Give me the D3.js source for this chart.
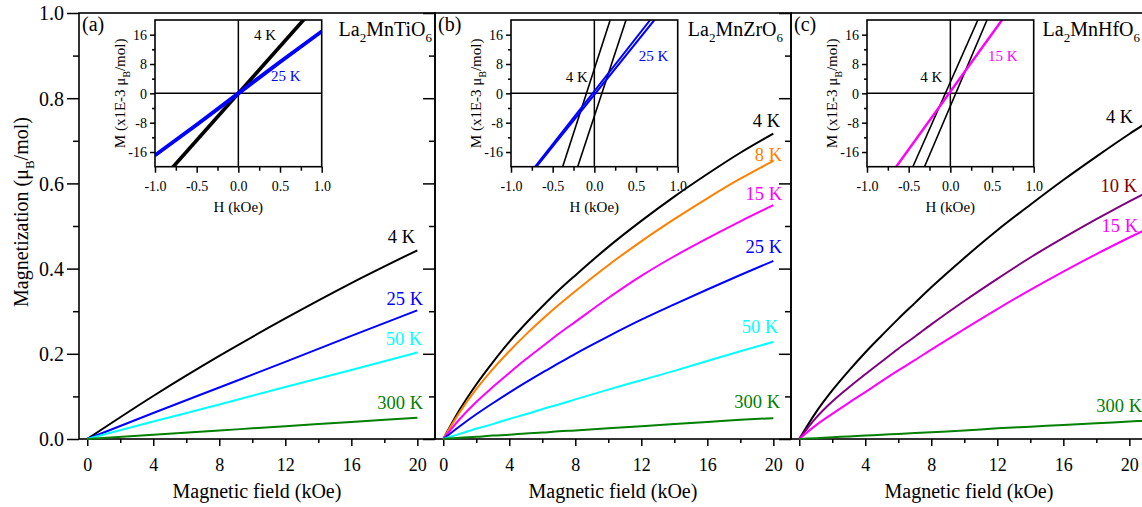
<!DOCTYPE html>
<html>
<head>
<meta charset="utf-8">
<script src="https://cdn.jsdelivr.net/npm/d3@7"></script>
<style>
body { margin: 0; background: #fff; }
svg { display: block; font-family: "Liberation Serif", "Times New Roman", serif; }
</style>
</head>
<body>
<div id="vis"></div>
<script>
var viewWidth = 1142;
var viewHeight = 507;

/* ---------- data (H in kOe, M in muB/mol) ---------- */

/* panel (a) La2MnTiO6 */
var fieldA = [0, 4, 8, 12, 16, 20];
var mA4 = [0, 0.101, 0.195, 0.283, 0.366, 0.443];
var mA25 = [0, 0.061, 0.121, 0.181, 0.242, 0.302];
var mA50 = [0, 0.041, 0.081, 0.122, 0.162, 0.203];
var mA300 = [0, 0.010, 0.020, 0.030, 0.040, 0.050];

/* panel (b) La2MnZrO6 */
var fieldB = [0, 1, 2, 3, 4, 5, 6, 7, 8, 10, 12, 14, 16, 18, 20];
var mB4 = [0, 0.069, 0.128, 0.180, 0.228, 0.271, 0.311, 0.349, 0.384, 0.451, 0.512, 0.569, 0.622, 0.672, 0.717];
var mB8 = [0, 0.063, 0.117, 0.164, 0.206, 0.245, 0.281, 0.315, 0.347, 0.408, 0.464, 0.516, 0.565, 0.611, 0.653];
var mB15 = [0, 0.047, 0.087, 0.122, 0.155, 0.187, 0.217, 0.247, 0.275, 0.331, 0.383, 0.429, 0.471, 0.511, 0.549];
var mB25 = [0, 0.030, 0.058, 0.084, 0.109, 0.133, 0.156, 0.178, 0.200, 0.241, 0.280, 0.316, 0.351, 0.385, 0.418];
var mB50 = [0, 0.012, 0.024, 0.035, 0.047, 0.058, 0.070, 0.081, 0.093, 0.116, 0.138, 0.160, 0.183, 0.206, 0.228];
var mB300 = [0, 0.003, 0.005, 0.008, 0.010, 0.013, 0.015, 0.018, 0.020, 0.025, 0.030, 0.035, 0.040, 0.045, 0.049];

/* panel (c) La2MnHfO6 */
var fieldC = [0, 1, 2, 3, 4, 5, 6, 7, 8, 10, 12, 14, 16, 18, 20, 21];
var mC4 = [0, 0.062, 0.114, 0.160, 0.203, 0.243, 0.282, 0.319, 0.356, 0.425, 0.490, 0.550, 0.608, 0.663, 0.716, 0.741];
var mC10 = [0, 0.049, 0.088, 0.121, 0.152, 0.182, 0.212, 0.240, 0.269, 0.324, 0.376, 0.426, 0.472, 0.516, 0.558, 0.578];
var mC15 = [0, 0.032, 0.059, 0.085, 0.110, 0.136, 0.161, 0.185, 0.210, 0.258, 0.305, 0.350, 0.393, 0.434, 0.473, 0.492];
var mC300 = [0, 0.002, 0.004, 0.006, 0.008, 0.010, 0.012, 0.014, 0.016, 0.020, 0.025, 0.029, 0.033, 0.037, 0.041, 0.043];

/* inset loops: each branch is a list of [H (kOe), M (1E-3 muB/mol)] */
var loopA4 = [[[-1, -25.9], [1, 25.3]], [[-1, -25.3], [1, 25.9]]];
var loopA25 = [[[-1, -17.0], [-0.5, -8.7], [0, -0.2], [0.5, 8.4], [1, 16.8]],
               [[-1, -16.8], [-0.5, -8.4], [0, 0.2], [0.5, 8.7], [1, 17.0]]];
var loopB4 = [[[-0.38, -20], [0.19, 20]], [[-0.20, -20], [0.38, 20]]];
var loopB25 = [[[-0.71, -20], [0.67, 20]], [[-0.695, -20], [0.72, 20]]];
var loopC4 = [[[-0.45, -20], [0.33, 20]], [[-0.31, -20], [0.44, 20]]];
var loopC15 = [[[-0.655, -20], [0.615, 20]], [[-0.645, -20], [0.625, 20]]];

/* labels */
var panelTags = ["(a)", "(b)", "(c)"];
var compounds = ["MnTiO", "MnZrO", "MnHfO"];
var tempsA = ["4 K", "25 K", "50 K", "300 K"];
var tempsB = ["4 K", "8 K", "15 K", "25 K", "50 K", "300 K"];
var tempsC = ["4 K", "10 K", "15 K", "300 K"];

/* ticks */
var xMajor = [0, 4, 8, 12, 16, 20];
var xMinor = [2, 6, 10, 14, 18];
var yMajor = [0, 0.2, 0.4, 0.6, 0.8, 1.0];
var yMinor = [0.1, 0.3, 0.5, 0.7, 0.9];
var insetXMajor = [-1, -0.5, 0, 0.5, 1];
var insetXMinor = [-0.75, -0.25, 0.25, 0.75];
var insetYMajor = [-16, -8, 0, 8, 16];
var insetYMinor = [-12, -4, 4, 12];

/* ---------- layout ---------- */
var panelLeft = [79, 435, 791];
var titleRight = [432, 783, 1140];
var panelWidth = 356;
var plotTop = 13;
var plotBottom = 439;
var insetOffset = 76, insetTop = 20, insetWidth = 166.7, insetHeight = 146.7;

var black = "#000000", blue = "#0000ff", cyan = "#00ffff", green = "#008000",
    orange = "#ff8000", magenta = "#ff00ff", purple = "#800080", wine = "#800000";

/* label anchor points, in data units of each panel */
var labelPosA = [[19.86, 0.46], [20.35, 0.315], [20.29, 0.221], [20.35, 0.070]];
var labelPosB = [[20.41, 0.732], [20.53, 0.653], [20.53, 0.561], [20.53, 0.437], [20.29, 0.249], [20.41, 0.073]];
var labelPosC = [[20.23, 0.742], [20.47, 0.58], [20.53, 0.486], [20.77, 0.063]];

/* assemble the panel descriptions from the arrays above */
var panels = [
  {
    field: fieldA, curves: [mA4, mA25, mA50, mA300], temps: tempsA,
    colors: [black, blue, cyan, green], labelColors: [black, blue, cyan, green], labelPos: labelPosA,
    loops: [{ data: loopA4, color: black, w: 2.2 }, { data: loopA25, color: blue, w: 3 }],
    insetLabels: [{ t: "4 K", h: 0.32, m: 14.5, c: black }, { t: "25 K", h: 0.57, m: 3.4, c: blue }]
  },
  {
    field: fieldB, curves: [mB4, mB8, mB15, mB25, mB50, mB300], temps: tempsB,
    colors: [black, orange, magenta, blue, cyan, green], labelColors: [black, orange, magenta, blue, cyan, green], labelPos: labelPosB,
    loops: [{ data: loopB4, color: black, w: 1.6 }, { data: loopB25, color: blue, w: 2 }],
    insetLabels: [{ t: "4 K", h: -0.21, m: 3.1, c: black }, { t: "25 K", h: 0.71, m: 8.8, c: blue }]
  },
  {
    field: fieldC, curves: [mC4, mC10, mC15, mC300], temps: tempsC,
    colors: [black, purple, magenta, green], labelColors: [black, wine, magenta, green], labelPos: labelPosC,
    loops: [{ data: loopC4, color: black, w: 1.6 }, { data: loopC15, color: magenta, w: 1.8 }],
    insetLabels: [{ t: "4 K", h: -0.23, m: 3.1, c: black }, { t: "15 K", h: 0.63, m: 8.8, c: magenta }]
  }
];

/* text with subscripts: parts = [[string, isSub], ...] */
function addFormula(sel, parts, size) {
  var shifted = false;
  parts.forEach(function(p) {
    var t = sel.append("tspan").text(p[0]);
    if (p[1]) {
      t.attr("font-size", size * 0.65).attr("dy", size * 0.3);
      shifted = true;
    } else {
      t.attr("font-size", size);
      if (shifted) { t.attr("dy", -size * 0.3); shifted = false; }
    }
  });
}

var svg = d3.select("#vis")
  .append("svg")
  .attr("width", viewWidth)
  .attr("height", viewHeight);

var yScale = d3.scaleLinear().domain([0, 1]).range([plotBottom, plotTop]);

panels.forEach(function(p, i) {
  var left = panelLeft[i];
  var x = d3.scaleLinear().domain([-0.5, 21.07]).range([left, left + panelWidth]);
  var g = svg.append("g").attr("class", "panel");

  /* bottom axis: major + minor ticks */
  var xMaj = g.append("g")
    .attr("transform", "translate(0," + plotBottom + ")")
    .call(d3.axisBottom(x).tickValues(xMajor).tickSize(7).tickSizeOuter(0).tickFormat(d3.format("d")));
  xMaj.selectAll("text").attr("y", 32).attr("dy", null).attr("font-size", 18);
  g.append("g")
    .attr("transform", "translate(0," + plotBottom + ")")
    .call(d3.axisBottom(x).tickValues(xMinor).tickSize(4).tickSizeOuter(0).tickFormat(""));

  /* left axis, labels only on the first panel */
  var yMaj = g.append("g")
    .attr("transform", "translate(" + left + ",0)")
    .call(d3.axisLeft(yScale).tickValues(yMajor).tickSize(12).tickSizeOuter(0).tickPadding(3)
      .tickFormat(i === 0 ? d3.format(".1f") : ""));
  yMaj.selectAll("text").attr("font-size", 20).attr("dy", "0.34em");
  g.append("g")
    .attr("transform", "translate(" + left + ",0)")
    .call(d3.axisLeft(yScale).tickValues(yMinor).tickSize(6).tickSizeOuter(0).tickFormat(""));

  g.selectAll(".domain").remove();
  g.selectAll(".tick line").attr("stroke", "#000").attr("stroke-width", 1.5);
  g.selectAll(".tick text").attr("font-family", "Liberation Serif").attr("fill", "#000");

  /* frame */
  g.append("rect")
    .attr("x", left).attr("y", plotTop)
    .attr("width", panelWidth).attr("height", plotBottom - plotTop)
    .attr("fill", "none").attr("stroke", "#000").attr("stroke-width", 1.6);

  /* M(H) curves */
  var line = d3.line()
    .x(function(d) { return x(d[0]); })
    .y(function(d) { return yScale(d[1]); })
    .curve(d3.curveMonotoneX);

  p.curves.forEach(function(m, k) {
    g.append("path")
      .datum(d3.zip(p.field, m))
      .attr("d", line)
      .attr("fill", "none")
      .attr("stroke", p.colors[k])
      .attr("stroke-width", 2);
  });

  /* curve labels */
  p.temps.forEach(function(t, k) {
    g.append("text")
      .attr("x", x(p.labelPos[k][0]))
      .attr("y", yScale(p.labelPos[k][1]))
      .attr("text-anchor", "end")
      .attr("font-size", 18.5)
      .attr("fill", p.labelColors[k])
      .text(t);
  });

  /* panel tag and compound */
  g.append("text").attr("x", left + 3).attr("y", 31).attr("font-size", 20).text(panelTags[i]);
  var title = g.append("text").attr("x", titleRight[i]).attr("y", 36).attr("text-anchor", "end");
  addFormula(title, [["La", false], ["2", true], [compounds[i], false], ["6", true]], 20);

  /* x title */
  g.append("text")
    .attr("x", left + panelWidth / 2).attr("y", 498)
    .attr("text-anchor", "middle").attr("font-size", 20)
    .text("Magnetic field (kOe)");

  /* ---------- inset hysteresis loop ---------- */
  var ig = g.append("g").attr("transform", "translate(" + (left + insetOffset) + "," + insetTop + ")");
  var ix = d3.scaleLinear().domain([-1, 1]).range([0, insetWidth]);
  var iy = d3.scaleLinear().domain([-20, 20]).range([insetHeight, 0]);

  ig.append("rect").attr("width", insetWidth).attr("height", insetHeight).attr("fill", "#fff");

  var clipId = "clip" + i;
  ig.append("clipPath").attr("id", clipId)
    .append("rect").attr("width", insetWidth).attr("height", insetHeight);

  /* zero lines */
  ig.append("line").attr("x1", ix(0)).attr("x2", ix(0)).attr("y1", 0).attr("y2", insetHeight)
    .attr("stroke", "#000").attr("stroke-width", 1.5);
  ig.append("line").attr("x1", 0).attr("x2", insetWidth).attr("y1", iy(0)).attr("y2", iy(0))
    .attr("stroke", "#000").attr("stroke-width", 1.5);

  var iline = d3.line()
    .x(function(d) { return ix(d[0]); })
    .y(function(d) { return iy(d[1]); })
    .curve(d3.curveMonotoneX);

  p.loops.forEach(function(loop) {
    loop.data.forEach(function(branch) {
      ig.append("path")
        .datum(branch)
        .attr("d", iline)
        .attr("clip-path", "url(#" + clipId + ")")
        .attr("fill", "none")
        .attr("stroke", loop.color)
        .attr("stroke-width", loop.w);
    });
  });

  /* inset axes */
  var ixMaj = ig.append("g").attr("transform", "translate(0," + insetHeight + ")")
    .call(d3.axisBottom(ix).tickValues(insetXMajor).tickSize(6).tickSizeOuter(0)
      .tickFormat(function(d) { return d.toFixed(1); }));
  ixMaj.selectAll("text").attr("y", 24).attr("dy", null).attr("font-size", 14);
  ig.append("g").attr("transform", "translate(0," + insetHeight + ")")
    .call(d3.axisBottom(ix).tickValues(insetXMinor).tickSize(4).tickSizeOuter(0).tickFormat(""));

  var iyMaj = ig.append("g")
    .call(d3.axisLeft(iy).tickValues(insetYMajor).tickSize(5).tickSizeOuter(0).tickPadding(3)
      .tickFormat(function(d) { return String(d); }));
  iyMaj.selectAll("text").attr("font-size", 14).attr("dy", "0.34em");
  ig.append("g")
    .call(d3.axisLeft(iy).tickValues(insetYMinor).tickSize(3).tickSizeOuter(0).tickFormat(""));

  ig.selectAll(".domain").remove();
  ig.selectAll(".tick line").attr("stroke", "#000").attr("stroke-width", 1.5);
  ig.selectAll(".tick text").attr("font-family", "Liberation Serif").attr("fill", "#000");

  ig.append("rect").attr("width", insetWidth).attr("height", insetHeight)
    .attr("fill", "none").attr("stroke", "#000").attr("stroke-width", 1.6);

  p.insetLabels.forEach(function(l) {
    ig.append("text")
      .attr("x", ix(l.h)).attr("y", iy(l.m))
      .attr("text-anchor", "middle").attr("font-size", 15)
      .attr("fill", l.c).text(l.t);
  });

  ig.append("text")
    .attr("x", insetWidth / 2).attr("y", 192)
    .attr("text-anchor", "middle").attr("font-size", 15)
    .text("H (kOe)");

  var iyTitle = ig.append("text")
    .attr("transform", "translate(-30," + (insetHeight / 2) + ") rotate(-90)")
    .attr("text-anchor", "middle");
  addFormula(iyTitle, [["M (x1E-3 \u03bc", false], ["B", true], ["/mol)", false]], 15);
});

/* shared y title */
var yTitle = svg.append("text")
  .attr("transform", "translate(28,212) rotate(-90)")
  .attr("text-anchor", "middle");
addFormula(yTitle, [["Magnetization (\u03bc", false], ["B", true], ["/mol)", false]], 20);
</script>
</body>
</html>
